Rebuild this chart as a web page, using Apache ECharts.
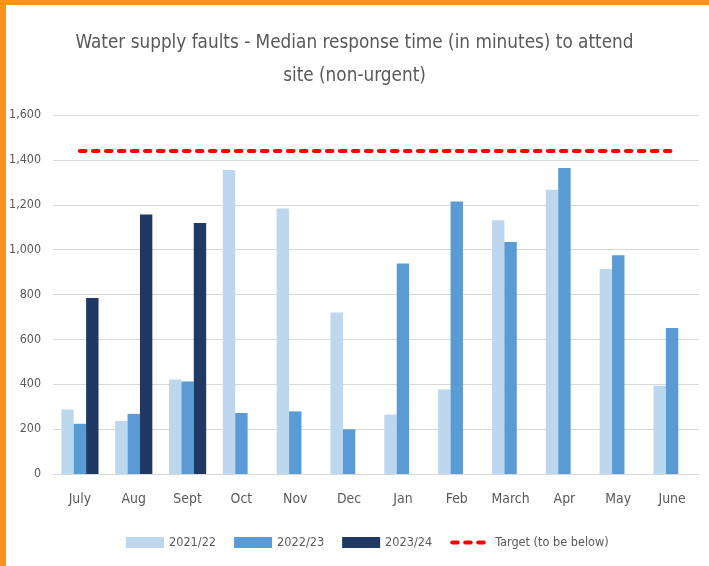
<!DOCTYPE html>
<html>
<head>
<meta charset="utf-8">
<script src="https://cdn.jsdelivr.net/npm/echarts@6/dist/echarts.min.js"></script>
<style>
html,body{margin:0;padding:0;background:#fff;}
#chart{width:709px;height:566px;}
</style>
</head>
<body>
<div id="chart"></div>
<script>
const categories = ['July','Aug','Sept','Oct','Nov','Dec','Jan','Feb','March','Apr','May','June'];
const series2122 = [287, 236, 421, 1355, 1183, 720, 265, 377, 1131, 1267, 914, 393];
const series2223 = [224, 268, 412, 272, 279, 199, 938, 1214, 1034, 1364, 975, 651];
const series2324 = [784, 1156, 1119, null, null, null, null, null, null, null, null, null];
const target = [1440, 1440, 1440, 1440, 1440, 1440, 1440, 1440, 1440, 1440, 1440, 1440];
const seriesNames = ['2021/22', '2022/23', '2023/24', 'Target (to be below)'];
const yTicks = {min: 0, max: 1600, interval: 200};
const titleLines = ['Water supply faults - Median response time (in minutes) to attend', 'site (non-urgent)'];

const ctx = document.createElement('canvas').getContext('2d');
function available(f) {
  const s = 'abcdefghijklmnopqrstuvwxyzABCDEFGHIJ0123456789';
  for (const base of ['monospace', 'serif']) {
    ctx.font = '72px ' + base;
    const w1 = ctx.measureText(s).width;
    ctx.font = '72px "' + f + '", ' + base;
    const w2 = ctx.measureText(s).width;
    if (Math.abs(w1 - w2) > 0.5) return true;
  }
  return false;
}
const candidates = ['Liberation Sans Narrow', 'DejaVu Sans Condensed', 'Roboto Condensed', 'Liberation Sans'];
let family = 'Liberation Sans';
for (const c of candidates) { if (available(c)) { family = c; break; } }
function fit(text, target) {
  ctx.font = '100px "' + family + '"';
  return Math.round(100 * target / ctx.measureText(text).width * 10) / 10;
}
const titleSize = fit(titleLines[0], 560);
const ySize = fit('1,600', 32);
const xSize = fit('March', 38);
const legSize = fit('2021/22', 47);

const textColor = '#595959';
const targetLine = {color: '#FF0000', width: 4, type: [5.5, 7.5], cap: 'round'};
const chart = echarts.init(document.getElementById('chart'), null, {renderer: 'canvas'});
chart.setOption({
  animation: false,
  backgroundColor: '#ffffff',
  textStyle: {fontFamily: family},
  title: {
    text: titleLines.join('\n'),
    left: 'center',
    top: 22,
    textStyle: {fontFamily: family, fontSize: titleSize, fontWeight: 'normal', color: textColor, lineHeight: 33}
  },
  graphic: [
    {type: 'rect', shape: {x: 0, y: 0, width: 709, height: 5}, style: {fill: '#F7931E'}, silent: true},
    {type: 'rect', shape: {x: 0, y: 0, width: 6, height: 566}, style: {fill: '#F7931E'}, silent: true}
  ],
  legend: {
    data: [
      {name: seriesNames[0], icon: 'rect'},
      {name: seriesNames[1], icon: 'rect'},
      {name: seriesNames[2], icon: 'rect'},
      {name: seriesNames[3], itemStyle: {opacity: 0}, lineStyle: {width: 4, type: [5.5, 7.5], cap: 'round', color: '#FF0000'}}
    ],
    left: 121,
    top: 531,
    itemWidth: 38,
    itemHeight: 11,
    itemGap: 18,
    textStyle: {fontFamily: family, fontSize: legSize, color: textColor}
  },
  grid: {left: 53, right: 10, top: 115, bottom: 92},
  xAxis: {
    type: 'category',
    data: categories,
    axisLine: {lineStyle: {color: '#D9D9D9', width: 1}},
    axisTick: {show: false},
    axisLabel: {fontFamily: family, fontSize: xSize, color: textColor, margin: 18}
  },
  yAxis: {
    type: 'value',
    min: yTicks.min, max: yTicks.max, interval: yTicks.interval,
    axisLine: {show: false},
    axisTick: {show: false},
    splitLine: {lineStyle: {color: '#D9D9D9', width: 1}},
    axisLabel: {
      fontFamily: family, fontSize: ySize, color: textColor, margin: 12,
      formatter: v => v.toLocaleString('en-US')
    }
  },
  series: [
    {name: seriesNames[0], type: 'bar', data: series2122, barWidth: 12.4, barGap: '0%', itemStyle: {color: '#BDD7EE'}},
    {name: seriesNames[1], type: 'bar', data: series2223, barWidth: 12.4, barGap: '0%', itemStyle: {color: '#5B9BD5'}},
    {name: seriesNames[2], type: 'bar', data: series2324, barWidth: 12.4, barGap: '0%', itemStyle: {color: '#203864'}},
    {
      name: seriesNames[3], type: 'line', data: target, symbol: 'none',
      itemStyle: {color: '#FF0000'},
      lineStyle: targetLine,
      z: 5
    }
  ]
});
</script>
</body>
</html>
